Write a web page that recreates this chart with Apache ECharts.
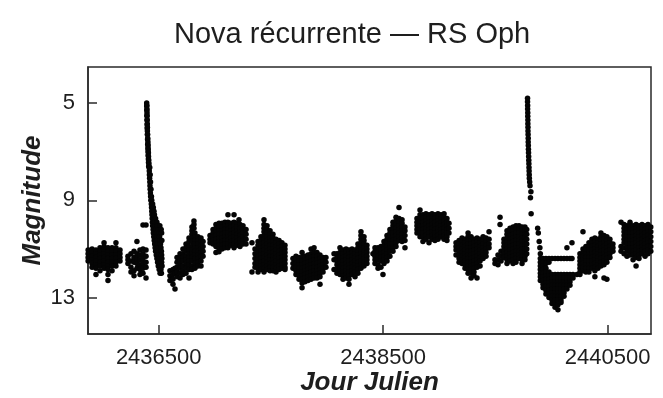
<!DOCTYPE html>
<html>
<head>
<meta charset="utf-8">
<script src="https://cdn.jsdelivr.net/npm/echarts@6/dist/echarts.min.js"></script>
<style>
  html, body { margin: 0; padding: 0; background: #fff; }
  #chart { width: 663px; height: 398px; }
</style>
</head>
<body>
<div id="chart"></div>
<script>
// RS Ophiuchi visual light curve, 1957-1970.
// Each row: [Julian Day, estimate, estimate, ...] (visual magnitudes from that night).
const season1957 = [
  [2435871, 11.05, 11.2, 11.35, 11.5],
  [2435906, 11.0, 11.15, 11.3, 11.45, 11.6, 11.75],
  [2435941, 11.05, 11.2, 11.35, 11.5, 11.65, 11.8, 12.05],
  [2435977, 10.95, 11.1, 11.25, 11.4, 11.55, 11.7, 11.9],
  [2436013, 10.75, 10.9, 11.05, 11.2, 11.35, 11.5, 11.65, 11.8],
  [2436048, 10.95, 11.1, 11.25, 11.4, 11.55, 11.7, 11.85, 12.05, 12.3],
  [2436084, 10.95, 11.1, 11.25, 11.4, 11.55, 11.7, 11.9],
  [2436119, 10.75, 10.95, 11.1, 11.25, 11.4, 11.55, 11.7],
  [2436155, 11.05, 11.2, 11.35, 11.5]
];

const season1958 = [
  [2436226, 11.3, 11.45, 11.6],
  [2436253, 11.2, 11.5, 11.75, 11.95],
  [2436280, 11.1, 11.35, 11.55, 11.9, 12.1],
  [2436306, 10.7, 11.2, 11.4, 11.6, 11.8],
  [2436333, 11.05, 11.25, 11.45, 11.65, 11.85, 12.05],
  [2436360, 10.02, 11.0, 11.2, 11.4, 11.6, 11.8, 12.0],
  [2436387, 10.02, 11.05, 11.3, 11.55, 11.75, 12.2]
];

// 1958 outburst and decline
const outburst1958 = [
  [2436393, 5.0, 5.12], [2436394, 5.1, 5.3], [2436395, 5.25, 5.5], [2436396, 5.4, 5.55, 5.7],
  [2436397, 5.7, 5.9], [2436398, 5.85, 6.05], [2436399, 6.0, 6.15, 6.3], [2436401, 6.3, 6.5],
  [2436402, 6.45, 6.7], [2436404, 6.6, 6.85], [2436405, 6.75, 7.0], [2436406, 6.9, 7.15],
  [2436408, 7.05, 7.3], [2436409, 7.2, 7.45], [2436411, 7.35, 7.6], [2436413, 7.5],
  [2436414, 7.65], [2436416, 7.8], [2436417, 7.95], [2436419, 8.1],
  [2436420, 7.65], [2436421, 8.25], [2436422, 8.4], [2436424, 8.55, 7.95],
  [2436426, 8.7], [2436427, 8.25], [2436428, 8.85], [2436430, 9.0],
  [2436431, 8.55], [2436434, 9.15], [2436435, 8.85], [2436436, 9.3],
  [2436438, 9.45, 9.0], [2436440, 9.6], [2436442, 9.75], [2436444, 9.9],
  [2436446, 10.05, 9.15], [2436450, 10.2], [2436452, 10.35, 9.3], [2436456, 10.5],
  [2436458, 9.45, 9.75], [2436460, 10.65], [2436462, 9.6], [2436464, 10.8, 9.9],
  [2436468, 10.95, 10.05], [2436472, 11.1, 9.75], [2436474, 10.2], [2436478, 11.25, 10.35],
  [2436482, 10.5], [2436484, 11.4, 9.9], [2436486, 10.65], [2436490, 11.55, 10.8, 10.05],
  [2436494, 10.95], [2436496, 11.7], [2436498, 11.1, 10.2], [2436502, 11.25],
  [2436504, 11.85, 10.35], [2436506, 11.4], [2436508, 10.5], [2436510, 11.55, 10.05],
  [2436512, 12.0, 10.65], [2436514, 11.7], [2436516, 10.8], [2436520, 11.85, 10.95],
  [2436522, 10.2], [2436524, 12.0, 11.1], [2436526, 11.25, 10.35, 11.55],
  [2436528, 11.4, 10.65], [2436530, 11.7]
];

const season1959 = [
  [2436600, 11.9, 12.1, 12.3],
  [2436627, 11.85, 12.05, 12.25, 12.45],
  [2436645, 11.8, 12.0, 12.65],
  [2436663, 11.35, 11.55, 11.75, 11.95, 12.15],
  [2436690, 11.2, 11.4, 11.6, 11.8, 12.0, 12.2],
  [2436716, 11.0, 11.2, 11.35, 11.5, 11.7, 11.9, 12.05],
  [2436743, 10.8, 10.95, 11.1, 11.3, 11.45, 11.6, 11.8, 12.0],
  [2436770, 10.55, 10.7, 10.9, 11.05, 11.2, 11.35, 11.5, 11.65, 11.85, 12.2],
  [2436796, 10.1, 10.25, 10.4, 10.55, 10.7, 10.9, 11.05, 11.2, 11.35, 11.5, 11.7, 11.85],
  [2436814, 9.85, 10.0, 10.15],
  [2436823, 10.35, 10.5, 10.65, 10.8, 10.95, 11.1, 11.25, 11.4, 11.6, 11.8],
  [2436850, 10.5, 10.65, 10.8, 10.95, 11.1, 11.25, 11.4, 11.55, 11.7],
  [2436877, 10.55, 10.7, 10.85, 11.0, 11.15, 11.3, 11.5, 11.7],
  [2436895, 10.7, 10.9, 11.1, 11.3]
];

const season1960 = [
  [2436957, 10.45, 10.6, 10.75],
  [2436984, 10.2, 10.35, 10.5, 10.65, 10.8],
  [2437010, 10.0, 10.15, 10.3, 10.45, 10.6, 10.75, 10.9, 11.15],
  [2437037, 9.95, 10.1, 10.25, 10.4, 10.55, 10.7, 10.85, 11.0, 11.12],
  [2437064, 9.95, 10.1, 10.25, 10.4, 10.55, 10.7, 10.85, 11.0],
  [2437090, 9.9, 10.05, 10.2, 10.35, 10.5, 10.65, 10.8, 10.95],
  [2437117, 9.6, 9.9, 10.05, 10.2, 10.35, 10.5, 10.65, 10.8, 10.95],
  [2437144, 9.95, 10.1, 10.25, 10.4, 10.55, 10.7, 10.85],
  [2437171, 9.6, 9.9, 10.05, 10.2, 10.35, 10.5, 10.65, 10.8, 10.95],
  [2437197, 9.95, 10.1, 10.25, 10.4, 10.55, 10.7, 10.85],
  [2437215, 9.8],
  [2437224, 10.0, 10.15, 10.3, 10.45, 10.6, 10.75, 10.9],
  [2437251, 10.05, 10.2, 10.35, 10.5, 10.65, 10.8],
  [2437278, 10.2, 10.4, 10.6, 10.8]
];

const season1961 = [
  [2437331, 10.75, 11.95],
  [2437358, 11.0, 11.2, 11.4, 11.6, 11.75],
  [2437385, 10.7, 10.85, 11.0, 11.15, 11.3, 11.45, 11.6, 11.8, 11.95],
  [2437411, 10.5, 10.65, 10.8, 10.95, 11.1, 11.25, 11.4, 11.55, 11.7, 11.85],
  [2437438, 9.8, 10.0, 10.15, 10.3, 10.45, 10.6, 10.75, 10.9, 11.05, 11.2, 11.35, 11.5, 11.65, 11.8, 11.95],
  [2437465, 10.05, 10.2, 10.35, 10.5, 10.65, 10.8, 10.95, 11.1, 11.25, 11.4, 11.55, 11.7, 11.85],
  [2437492, 10.25, 10.4, 10.55, 10.7, 10.85, 11.0, 11.15, 11.3, 11.45, 11.6, 11.75, 11.9],
  [2437518, 10.4, 10.55, 10.7, 10.85, 11.0, 11.15, 11.3, 11.45, 11.6, 11.75, 11.9],
  [2437545, 10.6, 10.75, 10.9, 11.05, 11.2, 11.35, 11.5, 11.65, 11.8, 11.95],
  [2437572, 10.65, 10.8, 10.95, 11.1, 11.25, 11.4, 11.55, 11.7, 11.85],
  [2437598, 10.75, 10.9, 11.05, 11.2, 11.35, 11.5, 11.65, 11.8],
  [2437625, 10.85, 11.0, 11.15, 11.3, 11.45, 11.6, 11.75, 11.85]
];

const season1962 = [
  [2437696, 11.4, 11.6, 11.8],
  [2437723, 11.3, 11.45, 11.6, 11.75, 11.9, 12.05],
  [2437750, 11.35, 11.5, 11.65, 11.8, 11.95, 12.1, 12.25],
  [2437777, 11.15, 11.35, 11.5, 11.65, 11.8, 11.95, 12.1, 12.25, 12.4, 12.6],
  [2437803, 11.3, 11.45, 11.6, 11.75, 11.9, 12.05, 12.2, 12.35],
  [2437830, 11.25, 11.4, 11.55, 11.7, 11.85, 12.0, 12.15, 12.3],
  [2437857, 11.0, 11.2, 11.35, 11.5, 11.65, 11.8, 11.95, 12.1, 12.25],
  [2437884, 10.95, 11.15, 11.3, 11.45, 11.6, 11.75, 11.9, 12.05, 12.2],
  [2437910, 11.15, 11.3, 11.45, 11.6, 11.75, 11.9, 12.05, 12.2],
  [2437937, 11.25, 11.4, 11.55, 11.7, 11.85, 12.0, 12.15, 12.45],
  [2437964, 11.35, 11.5, 11.65, 11.8, 11.95],
  [2437990, 11.35, 11.55, 11.75]
];

const season1963 = [
  [2438062, 11.2, 11.45, 11.85],
  [2438088, 11.2, 11.35, 11.5, 11.65, 11.85, 12.0],
  [2438115, 10.95, 11.15, 11.3, 11.45, 11.6, 11.75, 11.9, 12.05],
  [2438142, 11.05, 11.2, 11.35, 11.5, 11.65, 11.8, 11.95, 12.1, 12.25],
  [2438169, 11.0, 11.15, 11.3, 11.45, 11.6, 11.75, 11.9, 12.05, 12.2],
  [2438195, 11.05, 11.2, 11.35, 11.5, 11.65, 11.8, 11.95, 12.1, 12.25, 12.45],
  [2438222, 11.0, 11.15, 11.3, 11.45, 11.6, 11.75, 11.9, 12.05],
  [2438249, 11.05, 11.2, 11.35, 11.5, 11.65, 11.8, 11.95, 12.15],
  [2438275, 10.8, 10.95, 11.1, 11.25, 11.4, 11.55, 11.7, 11.85, 12.0],
  [2438302, 10.3, 10.45, 10.6, 10.75, 10.9, 11.05, 11.2, 11.35, 11.5, 11.65, 11.8],
  [2438329, 10.5, 10.65, 10.8, 10.95, 11.1, 11.25, 11.4, 11.55, 11.7],
  [2438355, 10.85, 11.0, 11.15, 11.3, 11.45, 11.6]
];

const season1964 = [
  [2438409, 11.2],
  [2438427, 10.95, 11.1, 11.3, 11.45, 11.6],
  [2438454, 10.95, 11.15, 11.3, 11.45, 11.65, 11.8],
  [2438480, 10.9, 11.05, 11.2, 11.35, 11.5, 11.75],
  [2438498, 12.05],
  [2438507, 10.7, 10.85, 11.0, 11.15, 11.3, 11.45, 11.6],
  [2438534, 10.45, 10.6, 10.75, 10.9, 11.05, 11.2, 11.35, 11.5],
  [2438560, 10.2, 10.35, 10.5, 10.65, 10.8, 10.95, 11.1, 11.3],
  [2438587, 9.9, 10.05, 10.2, 10.35, 10.5, 10.65, 10.8, 10.95, 11.1],
  [2438614, 9.7, 9.85, 10.0, 10.15, 10.3, 10.45, 10.6, 10.75, 10.9],
  [2438641, 9.3, 9.75, 9.9, 10.05, 10.2, 10.35, 10.5, 10.65],
  [2438668, 9.8, 9.95, 10.1, 10.25, 10.4, 10.55, 10.7],
  [2438694, 10.1, 10.25, 10.45, 10.65, 10.95]
];

const season1965 = [
  [2438801, 9.75, 9.9, 10.05, 10.2, 10.35],
  [2438828, 9.4, 9.6, 9.75, 9.9, 10.05, 10.2, 10.35, 10.5],
  [2438854, 9.6, 9.75, 9.9, 10.05, 10.2, 10.35, 10.5, 10.7],
  [2438881, 9.55, 9.7, 9.85, 10.0, 10.15, 10.3, 10.45, 10.6],
  [2438908, 9.6, 9.75, 9.9, 10.05, 10.2, 10.35, 10.5, 10.75],
  [2438935, 9.55, 9.7, 9.85, 10.0, 10.15, 10.3, 10.45, 10.6],
  [2438961, 9.6, 9.75, 9.9, 10.05, 10.2, 10.35, 10.5, 10.65],
  [2438988, 9.55, 9.7, 9.85, 10.0, 10.15, 10.3, 10.45, 10.6],
  [2439015, 9.6, 9.75, 9.9, 10.05, 10.2, 10.35, 10.5],
  [2439042, 9.55, 9.7, 9.85, 10.0, 10.15, 10.3, 10.45, 10.6],
  [2439068, 9.75, 9.9, 10.05, 10.2, 10.35, 10.5, 10.65],
  [2439086, 9.95, 10.15, 10.35]
];

const season1966 = [
  [2439149, 10.75, 10.9, 11.05, 11.25],
  [2439176, 10.65, 10.8, 10.95, 11.1, 11.25, 11.4, 11.55],
  [2439202, 10.55, 10.7, 10.85, 11.0, 11.15, 11.3, 11.45, 11.6],
  [2439229, 10.6, 10.75, 10.9, 11.05, 11.2, 11.35, 11.5, 11.65, 11.8],
  [2439256, 10.35, 10.5, 10.65, 10.8, 10.95, 11.1, 11.25, 11.4, 11.55, 11.7, 11.85, 12.0],
  [2439283, 10.5, 10.65, 10.8, 10.95, 11.1, 11.25, 11.4, 11.55, 11.7, 11.85, 12.0, 12.2],
  [2439309, 10.6, 10.75, 10.9, 11.05, 11.2, 11.35, 11.5, 11.65, 11.8, 11.95, 12.1],
  [2439336, 10.55, 10.7, 10.85, 11.0, 11.15, 11.3, 11.45, 11.6, 11.75, 12.2],
  [2439363, 10.6, 10.75, 10.9, 11.05, 11.2, 11.35, 11.5, 11.7],
  [2439390, 10.5, 10.65, 10.8, 10.95, 11.1, 11.25, 11.4],
  [2439416, 10.55, 10.7, 10.85, 11.0, 11.15, 11.3],
  [2439443, 10.3, 10.6, 10.8, 10.95]
];

const season1967 = [
  [2439496, 11.45, 11.6],
  [2439523, 11.25, 11.45, 11.65],
  [2439541, 9.7, 10.0],
  [2439550, 11.1, 11.3, 11.5],
  [2439576, 10.6, 10.75, 10.9, 11.05, 11.2, 11.35],
  [2439603, 10.25, 10.4, 10.55, 10.7, 10.85, 11.0, 11.15, 11.3, 11.45, 11.6],
  [2439630, 10.15, 10.3, 10.45, 10.6, 10.75, 10.9, 11.05, 11.2, 11.35, 11.5],
  [2439657, 10.1, 10.25, 10.4, 10.55, 10.7, 10.85, 11.0, 11.15, 11.3, 11.45, 11.6],
  [2439683, 10.05, 10.2, 10.35, 10.5, 10.65, 10.8, 10.95, 11.1, 11.25, 11.4, 11.55],
  [2439710, 10.05, 10.2, 10.35, 10.5, 10.65, 10.8, 10.95, 11.1, 11.25, 11.4],
  [2439737, 10.1, 10.25, 10.4, 10.55, 10.7, 10.85, 11.0, 11.15, 11.3, 11.45, 11.6],
  [2439763, 10.1, 10.25, 10.4, 10.55, 10.7, 10.85, 11.0, 11.15, 11.3, 11.45],
  [2439779, 10.2, 10.4, 10.6, 10.8, 11.0, 11.2]
];

// 1967 outburst
const outburst1967 = [
  [2439786, 4.8, 4.95], [2439787, 5.1, 5.25], [2439788, 5.4, 5.55], [2439789, 5.7, 5.85],
  [2439790, 6.0, 6.15], [2439791, 6.3], [2439792, 6.45, 6.6], [2439793, 6.75],
  [2439794, 6.9], [2439795, 7.05], [2439796, 7.2], [2439797, 7.35], [2439798, 7.5],
  [2439799, 7.65], [2439800, 7.8], [2439801, 7.95], [2439802, 8.1], [2439805, 8.25],
  [2439808, 8.4], [2439812, 8.9], [2439816, 8.65], [2439818, 9.55]
];

const season1968 = [
  [2439876, 10.15], [2439882, 10.35], [2439890, 10.7], [2439896, 10.95],
  [2439900, 11.2, 11.4, 11.55, 11.7, 11.85, 12.0, 12.15, 12.3],
  [2439924, 11.4, 11.55, 11.7, 11.85, 12.0, 12.15, 12.3, 12.45, 12.6],
  [2439950, 11.4, 11.6, 11.8, 11.95, 12.1, 12.25, 12.4, 12.55, 12.7, 12.85],
  [2439977, 11.4, 11.55, 11.95, 12.1, 12.25, 12.4, 12.55, 12.7, 12.85, 13.0],
  [2440004, 11.4, 12.05, 12.2, 12.35, 12.5, 12.65, 12.8, 12.95, 13.1, 13.25],
  [2440031, 11.4, 12.05, 12.2, 12.35, 12.5, 12.65, 12.8, 12.95, 13.1, 13.25, 13.4],
  [2440057, 11.4, 12.05, 12.2, 12.35, 12.5, 12.65, 12.8, 12.95, 13.1, 13.3, 13.5],
  [2440084, 11.4, 12.05, 12.2, 12.35, 12.5, 12.65, 12.8, 12.95, 13.1, 13.2],
  [2440111, 11.4, 12.05, 12.2, 12.35, 12.5, 12.65, 12.8, 12.95],
  [2440137, 10.95, 11.4, 12.05, 12.2, 12.35, 12.5, 12.65],
  [2440164, 11.4, 12.05, 12.2, 12.35, 12.5],
  [2440182, 10.75, 11.4],
  [2440191, 12.05, 12.2]
];

const season1969 = [
  [2440226, 12.05],
  [2440253, 11.2, 11.35, 11.5, 11.65, 11.8, 11.95, 12.05],
  [2440280, 10.3, 11.0, 11.15, 11.3, 11.45, 11.6, 11.75, 11.9],
  [2440306, 10.9, 11.05, 11.2, 11.35, 11.5, 11.65, 11.8, 11.95],
  [2440333, 10.75, 10.9, 11.05, 11.2, 11.35, 11.5, 11.65, 11.8, 11.95],
  [2440360, 10.6, 10.75, 10.9, 11.05, 11.2, 11.35, 11.5, 11.65, 11.8],
  [2440386, 10.55, 10.7, 10.85, 11.0, 11.15, 11.3, 11.45, 11.6, 11.75, 11.9, 12.15],
  [2440413, 10.6, 10.75, 10.9, 11.05, 11.2, 11.35, 11.5, 11.65, 11.8],
  [2440440, 10.35, 10.5, 10.65, 10.8, 10.95, 11.1, 11.25, 11.4, 11.55, 11.7],
  [2440467, 10.45, 10.6, 10.75, 10.9, 11.05, 11.2, 11.35, 11.5, 11.65, 12.2],
  [2440493, 10.5, 10.65, 10.8, 10.95, 11.1, 11.25, 11.4, 11.55, 12.25],
  [2440520, 10.6, 10.75, 10.9, 11.05, 11.2, 11.35],
  [2440547, 10.8, 10.95, 11.1]
];

const season1970 = [
  [2440619, 9.9, 10.9, 11.1],
  [2440646, 10.0, 10.15, 10.3, 10.45, 10.6, 10.75, 10.95, 11.2],
  [2440672, 10.05, 10.2, 10.35, 10.5, 10.65, 10.8, 10.95, 11.1, 11.3],
  [2440699, 9.9, 10.05, 10.2, 10.35, 10.5, 10.65, 10.8, 10.95, 11.1, 11.25],
  [2440726, 10.05, 10.2, 10.35, 10.5, 10.65, 10.8, 10.95, 11.1, 11.25, 11.45],
  [2440753, 10.0, 10.15, 10.3, 10.45, 10.6, 10.75, 10.9, 11.05, 11.2, 11.35, 11.7],
  [2440779, 10.05, 10.2, 10.35, 10.5, 10.65, 10.8, 10.95, 11.1, 11.25, 11.4],
  [2440806, 10.0, 10.15, 10.3, 10.45, 10.6, 10.75, 10.9, 11.05, 11.2],
  [2440833, 10.05, 10.2, 10.35, 10.5, 10.65, 10.8, 10.95, 11.1, 11.3],
  [2440859, 10.0, 10.15, 10.3, 10.45, 10.6, 10.75, 10.9, 11.05, 11.2],
  [2440884, 10.1, 10.3, 10.5, 10.7, 10.9, 11.1]
];

const jdTicks = [2436500, 2438500, 2440500];
const magTicks = [5, 9, 13];

const FONT = "'Liberation Sans', Arial, Helvetica, sans-serif";
const INK = '#1e1e1e';

// Expand nightly rows into [JD, magnitude] points
function nightsToPoints(rows) {
  const pts = [];
  rows.forEach(function (row) {
    for (let i = 1; i < row.length; i++) pts.push([row[0], row[i]]);
  });
  return pts;
}

const allPoints = [].concat(
  nightsToPoints(season1957), nightsToPoints(season1958), nightsToPoints(outburst1958),
  nightsToPoints(season1959), nightsToPoints(season1960), nightsToPoints(season1961),
  nightsToPoints(season1962), nightsToPoints(season1963), nightsToPoints(season1964),
  nightsToPoints(season1965), nightsToPoints(season1966), nightsToPoints(season1967),
  nightsToPoints(outburst1967), nightsToPoints(season1968), nightsToPoints(season1969),
  nightsToPoints(season1970)
);

const chart = echarts.init(document.getElementById('chart'), null, { renderer: 'canvas' });

chart.setOption({
  animation: false,
  backgroundColor: '#ffffff',
  title: {
    text: 'Nova récurrente — RS Oph',
    left: 174,
    top: 20,
    padding: 0,
    textStyle: { fontFamily: FONT, fontSize: 29, fontWeight: 'normal', color: INK }
  },
  grid: {
    left: 88, right: 12, top: 67, bottom: 64,
    outerBoundsMode: 'none',
    containLabel: false,
    show: true, borderColor: '#2a2a2a', borderWidth: 1.5, backgroundColor: 'transparent'
  },
  xAxis: {
    type: 'value',
    min: 2435870,
    max: 2440886,
    name: 'Jour Julien',
    nameLocation: 'middle',
    nameGap: 36,
    nameMoveOverlap: false,
    nameTextStyle: { fontFamily: FONT, fontSize: 26, fontWeight: 'bold', fontStyle: 'italic', color: INK },
    axisLine: { show: true, lineStyle: { color: '#2a2a2a', width: 1.5 } },
    axisTick: { show: true, inside: true, length: 9, customValues: jdTicks, lineStyle: { color: '#2a2a2a', width: 1.5 } },
    axisLabel: {
      customValues: jdTicks, margin: 13, fontFamily: FONT, fontSize: 22, color: INK,
      formatter: function (v) { return String(v); }
    },
    splitLine: { show: false }
  },
  yAxis: {
    type: 'value',
    inverse: true,
    min: 3.52,
    max: 14.5,
    name: 'Magnitude',
    nameLocation: 'middle',
    nameRotate: 90,
    nameGap: 42,
    nameMoveOverlap: false,
    nameTextStyle: { fontFamily: FONT, fontSize: 26, fontWeight: 'bold', fontStyle: 'italic', color: INK },
    axisLine: { show: true, lineStyle: { color: '#2a2a2a', width: 1.5 } },
    axisTick: { show: true, inside: true, length: 9, customValues: magTicks, lineStyle: { color: '#2a2a2a', width: 1.5 } },
    axisLabel: {
      customValues: magTicks, margin: 13, fontFamily: FONT, fontSize: 22, color: INK,
      formatter: function (v) { return String(v); }
    },
    splitLine: { show: false }
  },
  series: [{
    type: 'scatter',
    data: allPoints,
    symbol: 'circle',
    symbolSize: 5.5,
    itemStyle: { color: '#050505', opacity: 1 },
    clip: true
  }]
});
</script>
</body>
</html>
